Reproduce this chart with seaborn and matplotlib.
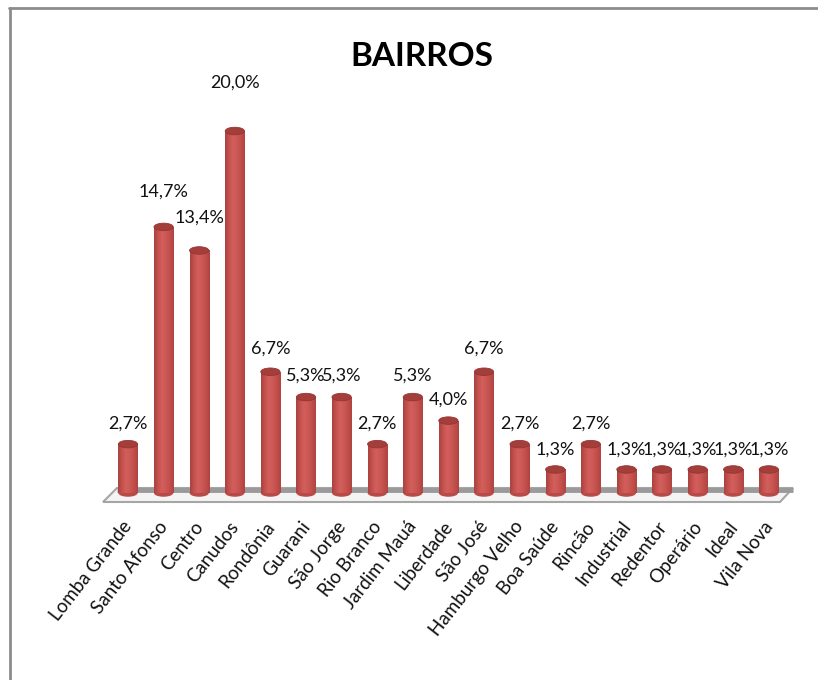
import numpy as np
import pandas as pd
import matplotlib
matplotlib.use("Agg")
import matplotlib.pyplot as plt
import seaborn as sns
from matplotlib.patches import Ellipse, Polygon
from matplotlib.lines import Line2D
from matplotlib.colors import LinearSegmentedColormap
import matplotlib.transforms as mtransforms

bairros = ["Lomba Grande", "Santo Afonso", "Centro", "Canudos", "Rondônia", "Guarani",
           "São Jorge", "Rio Branco", "Jardim Mauá", "Liberdade", "São José",
           "Hamburgo Velho", "Boa Saúde", "Rincão", "Industrial", "Redentor",
           "Operário", "Ideal", "Vila Nova"]
valores = [2.7, 14.7, 13.4, 20.0, 6.7, 5.3, 5.3, 2.7, 5.3, 4.0, 6.7, 2.7, 1.3, 2.7,
           1.3, 1.3, 1.3, 1.3, 1.3]
rotulos = ["2,7%", "14,7%", "13,4%", "20,0%", "6,7%", "5,3%", "5,3%", "2,7%", "5,3%",
           "4,0%", "6,7%", "2,7%", "1,3%", "2,7%", "1,3%", "1,3%", "1,3%", "1,3%", "1,3%"]
titulo = "BAIRROS"

sns.set_style("white")
plt.rcParams["font.family"] = ["Lato", "DejaVu Sans"]

W, H = 818, 680
fig = plt.figure(figsize=(W / 100, H / 100), dpi=100)

# pixel geometry
x0px, dxpx = 128, 35.6
base_py, dypx = 493, 18.1
ax_l, ax_r = 90, 800
xlim = ((ax_l - x0px) / dxpx, (ax_r - x0px) / dxpx)
ylim = (-1.0, 21.5)
ax_bottom_py = base_py - ylim[0] * dypx
ax_top_py = base_py - ylim[1] * dypx
ax = fig.add_axes([ax_l / W, (H - ax_bottom_py) / H, (ax_r - ax_l) / W,
                   (ax_bottom_py - ax_top_py) / H])

df = pd.DataFrame({"bairro": bairros, "valor": valores})
sns.barplot(data=df, x="bairro", y="valor", color="#C0504D", width=0.54,
            ax=ax, zorder=3, linewidth=0)
bars = list(ax.patches)

# floor
floor = Polygon([((103 - x0px) / dxpx, (base_py - 502) / dypx),
                 ((117 - x0px) / dxpx, (base_py - 488) / dypx),
                 ((793 - x0px) / dxpx, (base_py - 488) / dypx),
                 ((780 - x0px) / dxpx, (base_py - 502) / dypx)],
                closed=True, facecolor="#F4F4F4", edgecolor="#A6A6A6",
                linewidth=1.5, zorder=1, clip_on=False)
ax.add_patch(floor)
ax.plot([(117 - x0px) / dxpx, (793 - x0px) / dxpx],
        [(base_py - 489.5) / dypx] * 2, color="#9A9A9A", lw=3.5, zorder=2,
        solid_capstyle="butt", clip_on=False)

# cylinder shading
cmap = LinearSegmentedColormap.from_list(
    "cyl", ["#A8413E", "#C4514E", "#D25F5C", "#CC5956", "#C04E4B", "#AE4441"])
grad = np.linspace(0, 1, 256).reshape(1, -1)
cap_h = 7.5 / dypx
for p in bars:
    bx, bw, bh = p.get_x(), p.get_width(), p.get_height()
    if bh <= 0:
        continue
    im = ax.imshow(grad, extent=[bx, bx + bw, 0, bh], aspect="auto", cmap=cmap,
                   zorder=4, interpolation="bilinear")
    im.set_clip_path(p)
    ax.add_patch(Ellipse((bx + bw / 2, 0), bw, cap_h, facecolor="#B84A47",
                         edgecolor="none", zorder=3.5))
    ax.add_patch(Ellipse((bx + bw / 2, bh), bw, cap_h, facecolor="#A43E3B",
                         edgecolor="#953532", linewidth=0.6, zorder=5))

# data labels
for i, (v, t) in enumerate(zip(valores, rotulos)):
    ax.text(i, v + 1.1 + 0.004 * v * v, t, ha="center", va="center",
            fontsize=13, color="#111111", zorder=6, clip_on=False)

ax.set_xlim(*xlim)
ax.set_ylim(*ylim)
ax.set_xlabel("")
ax.set_ylabel("")
ax.set_yticks([])
for s in ax.spines.values():
    s.set_visible(False)
ax.tick_params(axis="x", length=0, pad=5)
ax.set_xticks(range(len(bairros)))
ax.set_xticklabels(bairros, rotation=52, ha="right", va="top",
                   rotation_mode="anchor", fontsize=13.5, color="#111111")
off = mtransforms.ScaledTranslation(-6 / 100, 0, fig.dpi_scale_trans)
for lab in ax.get_xticklabels():
    lab.set_transform(lab.get_transform() + off)
ax.set_facecolor("none")

fig.text(422 / W, 1 - 57 / H, titulo, ha="center", va="center", fontsize=24,
         fontweight="bold", color="#000000")

# outer frame (top and left edges visible)
fig.add_artist(Line2D([9 / W, 1], [1 - 8 / H, 1 - 8 / H], color="#8C8C8C", lw=2,
                      transform=fig.transFigure))
fig.add_artist(Line2D([10 / W, 10 / W], [0, 1 - 8 / H], color="#8C8C8C", lw=2,
                      transform=fig.transFigure))

fig.savefig("out.png", dpi=100, facecolor="white")
